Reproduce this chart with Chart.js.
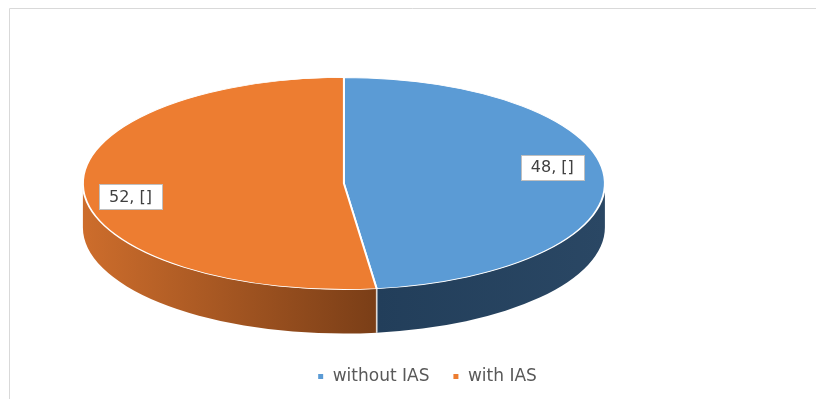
<!DOCTYPE html>
<html>
<head>
<meta charset="utf-8">
<script src="https://cdn.jsdelivr.net/npm/chart.js@4.4.0/dist/chart.umd.min.js"></script>
<style>
    html, body { margin: 0; padding: 0; background: #ffffff; }
</style>
</head>
<body>
<canvas id="pieChart" width="816" height="399"></canvas>
<script>
// Chart data
const categories = ['without IAS', 'with IAS'];
const shares = [48, 52];
const pointLabels = ['48, []', '52, []'];
const topColors = ['#5b9bd5', '#ed7d31'];
// side wall gradient, left -> right
const sideColors = [['#223e5a', '#2a4764'], ['#cd6d2c', '#7a3e17']];

// 3D look settings
const pieRadius = 261;
const tilt = 106 / 261;
const depth = 44;
// label nudges (x, y) to mimic the best-fit placement
const labelNudge = [[0, -11], [-5, 8]];

// clip an arc range to the front half of the ellipse (0..PI)
function frontPart(start, end) {
    const ranges = [];
    for (let k = -1; k <= 1; k++) {
        const a = Math.max(start, k * 2 * Math.PI);
        const b = Math.min(end, k * 2 * Math.PI + Math.PI);
        if (b > a) ranges.push([a, b]);
    }
    return ranges;
}

const pie3dPlugin = {
    id: 'pie3d',
    beforeDraw(chart) {
        // frame lines on top and left
        const ctx = chart.ctx;
        ctx.save();
        ctx.strokeStyle = '#d9d9d9';
        ctx.lineWidth = 1;
        ctx.beginPath();
        ctx.moveTo(9.5, chart.height);
        ctx.lineTo(9.5, 8.5);
        ctx.lineTo(chart.width, 8.5);
        ctx.stroke();
        ctx.restore();
    },
    beforeDatasetsDraw(chart) {
        const ctx = chart.ctx;
        const arcs = chart.getDatasetMeta(0).data;
        ctx.save();
        arcs.forEach((arc, i) => {
            const { x, y, startAngle, endAngle, outerRadius } = arc.getProps(['x', 'y', 'startAngle', 'endAngle', 'outerRadius'], true);
            const ry = outerRadius * tilt;
            frontPart(startAngle, endAngle).forEach(([a, b]) => {
                const xs = [x + outerRadius * Math.cos(a), x + outerRadius * Math.cos(b)];
                const g = ctx.createLinearGradient(Math.min(...xs), 0, Math.max(...xs), 0);
                g.addColorStop(0, sideColors[i][0]);
                g.addColorStop(1, sideColors[i][1]);
                ctx.beginPath();
                ctx.ellipse(x, y, outerRadius, ry, 0, a, b, false);
                ctx.ellipse(x, y + depth, outerRadius, ry, 0, b, a, true);
                ctx.closePath();
                ctx.fillStyle = g;
                ctx.fill();
                // seams at the slice edges
                ctx.strokeStyle = 'rgba(255,255,255,0.7)';
                ctx.lineWidth = 1.5;
                [a, b].forEach(t => {
                    if (t > 0.01 && t < Math.PI - 0.01) {
                        const px = x + outerRadius * Math.cos(t);
                        const py = y + ry * Math.sin(t);
                        ctx.beginPath();
                        ctx.moveTo(px, py);
                        ctx.lineTo(px, py + depth);
                        ctx.stroke();
                    }
                });
            });
        });
        // squash the top face
        const cx = arcs[0].x, cy = arcs[0].y;
        ctx.translate(cx, cy);
        ctx.scale(1, tilt);
        ctx.translate(-cx, -cy);
    },
    afterDatasetsDraw(chart) {
        const ctx = chart.ctx;
        ctx.restore();
        const arcs = chart.getDatasetMeta(0).data;
        ctx.save();
        ctx.font = '16px "DejaVu Sans"';
        ctx.textAlign = 'center';
        ctx.textBaseline = 'middle';
        arcs.forEach((arc, i) => {
            const mid = (arc.startAngle + arc.endAngle) / 2;
            const lx = arc.x + arc.outerRadius * 0.8 * Math.cos(mid) + labelNudge[i][0];
            const ly = arc.y + arc.outerRadius * tilt * 0.8 * Math.sin(mid) + labelNudge[i][1];
            const w = Math.round(ctx.measureText(pointLabels[i]).width + 20);
            const h = 25;
            const bx = Math.round(lx - w / 2) + 0.5;
            const by = Math.round(ly - h / 2) + 0.5;
            ctx.fillStyle = '#ffffff';
            ctx.fillRect(bx, by, w, h);
            ctx.strokeStyle = '#bfbfbf';
            ctx.lineWidth = 1;
            ctx.strokeRect(bx, by, w, h);
            ctx.fillStyle = '#404040';
            ctx.fillText(pointLabels[i], lx, ly + 1);
        });
        ctx.restore();
    }
};

const ctx = document.getElementById('pieChart').getContext('2d');
new Chart(ctx, {
    type: 'pie',
    data: {
        labels: categories,
        datasets: [{
            data: shares,
            backgroundColor: topColors,
            borderColor: '#ffffff',
            borderWidth: 2,
            radius: pieRadius
        }]
    },
    options: {
        responsive: false,
        animation: false,
        layout: {
            padding: { left: 38, right: 0, top: 22, bottom: 4 }
        },
        plugins: {
            tooltip: { enabled: false },
            // blank spacer on the right to push the pie left of the legend centre
            title: {
                display: true,
                position: 'right',
                text: ' ',
                font: { size: 16 },
                padding: { top: 73, bottom: 74 }
            },
            legend: {
                position: 'bottom',
                align: 'center',
                maxHeight: 50,
                labels: {
                    boxWidth: 7,
                    boxHeight: 7,
                    padding: 23,
                    color: '#595959',
                    font: { family: 'DejaVu Sans', size: 17 }
                }
            }
        }
    },
    plugins: [pie3dPlugin]
});
</script>
</body>
</html>
